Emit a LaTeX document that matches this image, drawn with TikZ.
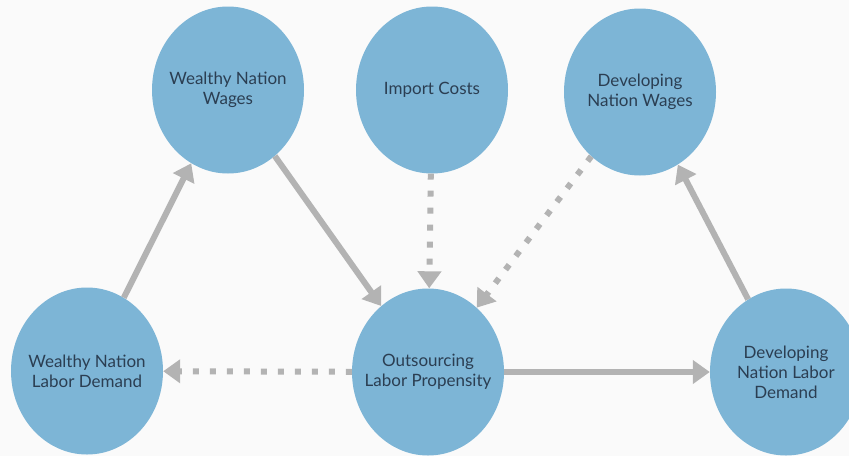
\documentclass[tikz,border=0pt]{standalone}
\usepackage{fontspec}
\setmainfont{Lato}
\usetikzlibrary{shapes.geometric,arrows.meta}
\definecolor{bg}{HTML}{FAFAFA}
\definecolor{blob}{HTML}{7DB5D6}
\definecolor{txt}{HTML}{2B3E52}
\definecolor{arr}{HTML}{B3B3B3}
\begin{document}
\begin{tikzpicture}[x=1pt,y=-1pt,
  bubble/.style={ellipse,fill=blob,minimum width=152pt,minimum height=167pt,inner sep=0pt,
    label={[lbl]center:#1}},
  lbl/.style={text=txt,align=center,font=\fontsize{17}{20}\selectfont},
  link/.style={draw=arr,line width=6pt,-{Triangle[length=17pt,width=23pt]}},
  dotlink/.style={link,dash pattern=on 6pt off 11pt}]
\fill[bg] (0,0) rectangle (849,456);
\useasboundingbox (0,0) rectangle (849,456);
\node[bubble={Wealthy Nation\\Wages}] (wnw) at (228,90) {};
\node[bubble={Import Costs}] (ic) at (432,90) {};
\node[bubble={Developing\\Nation Wages}] (dnw) at (640,92) {};
\node[bubble={Wealthy Nation\\Labor Demand}] (wnld) at (87,371) {};
\node[bubble={Outsourcing\\Labor Propensity}] (olp) at (428,372) {};
\node[bubble={Developing\\Nation Labor\\Demand}] (dnld) at (786,372) {};
\draw[link] (wnld) -- (wnw);
\draw[link] (wnw) -- (olp);
\draw[link] (olp) -- (dnld);
\draw[link] (dnld) -- (dnw);
\draw[dotlink] (ic) -- (olp);
\draw[dotlink] (dnw) -- (olp);
\draw[dotlink] (olp) -- (wnld);
\end{tikzpicture}
\end{document}
